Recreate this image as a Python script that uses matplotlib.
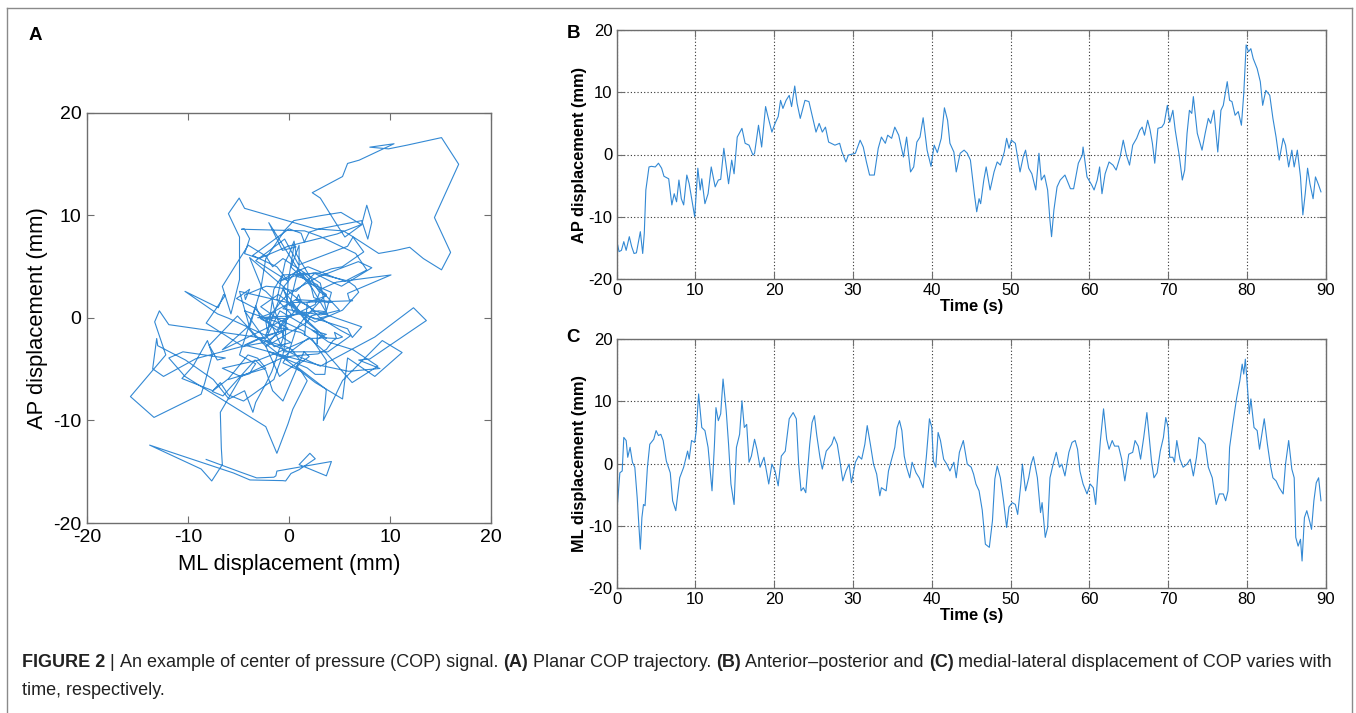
import numpy as np
import matplotlib
matplotlib.use("Agg")
import matplotlib.pyplot as plt
from matplotlib.lines import Line2D
from matplotlib.text import Annotation

# AP displacement (mm)
time_ap = [0.0, 0.3, 0.6, 0.9, 1.2, 1.6, 1.9, 2.2, 2.5, 3.0, 3.3, 3.5, 3.7, 4.1, 4.4, 4.9,
           5.3, 5.7, 6.0, 6.6, 7.0, 7.3, 7.6, 7.9, 8.2, 8.5, 8.9, 9.2, 9.9, 10.3, 10.6, 10.8,
           11.2, 11.6, 12.0, 12.5, 12.9, 13.2, 13.6, 14.2, 14.6, 14.9, 15.3, 15.9, 16.3, 16.8,
           17.3, 17.5, 18.0, 18.4, 18.9, 19.2, 19.7, 20.1, 20.5, 20.8, 21.1, 21.5, 21.9, 22.2,
           22.6, 22.9, 23.3, 23.9, 24.4, 24.8, 25.3, 25.7, 26.1, 26.5, 26.9, 27.7, 28.3, 28.6,
           29.1, 29.4, 30.3, 30.9, 31.3, 31.7, 32.1, 32.7, 33.2, 33.6, 34.1, 34.4, 34.9, 35.3,
           35.8, 36.4, 36.8, 37.3, 37.7, 38.1, 38.5, 38.9, 39.4, 39.9, 40.3, 40.7, 41.2, 41.6,
           42.0, 42.3, 42.8, 43.1, 43.6, 44.1, 44.5, 44.9, 45.4, 45.7, 46.0, 46.2, 46.6, 46.9,
           47.4, 47.9, 48.3, 48.7, 49.2, 49.5, 49.8, 50.1, 50.6, 51.2, 51.6, 51.9, 52.3, 52.7,
           53.2, 53.6, 53.9, 54.3, 54.7, 55.0, 55.2, 55.5, 55.9, 56.3, 56.9, 57.6, 58.0, 58.6,
           59.1, 59.2, 59.7, 60.3, 60.6, 61.0, 61.3, 61.6, 62.0, 62.5, 63.0, 63.4, 63.9, 64.3,
           64.7, 65.1, 65.5, 66.0, 66.4, 66.7, 67.0, 67.4, 67.7, 68.0, 68.3, 68.7, 69.2, 69.5,
           69.9, 70.2, 70.6, 70.9, 71.4, 71.8, 72.1, 72.4, 72.7, 73.0, 73.2, 73.7, 74.3, 74.7,
           75.1, 75.4, 75.8, 76.3, 76.7, 77.0, 77.5, 77.8, 78.1, 78.5, 78.9, 79.3, 79.6, 79.9,
           80.2, 80.5, 80.8, 81.3, 81.7, 82.0, 82.4, 82.9, 83.3, 83.7, 84.1, 84.6, 84.9, 85.3,
           85.7, 86.0, 86.4, 86.8, 87.1, 87.4, 87.7, 88.0, 88.4, 88.7, 89.1, 89.4]
ap = [-13.8, -15.6, -15.4, -14.0, -15.4, -13.2, -14.8, -15.9, -15.8, -12.4, -15.9, -12.7, -5.7, -2.0, -1.9, -2.0,
      -1.4, -2.2, -3.5, -3.9, -8.1, -6.3, -7.6, -4.1, -7.1, -8.1, -3.3, -4.7, -10.0, -2.2, -5.7, -3.9,
      -7.9, -6.3, -2.0, -5.2, -4.1, -4.0, 1.0, -4.7, -0.9, -3.1, 2.8, 4.2, 1.8, 1.5,
      -0.1, 0.2, 4.7, 1.2, 7.7, 6.1, 3.6, 5.0, 6.1, 8.7, 7.4, 8.7, 9.5, 7.7,
      11.0, 8.2, 5.8, 8.7, 8.5, 6.3, 3.6, 5.0, 3.6, 4.4, 2.0, 1.5, 1.8, 0.4,
      -1.2, -0.1, 0.2, 2.3, 1.2, -1.2, -3.3, -3.3, 1.0, 2.8, 1.8, 3.1, 2.6, 4.4,
      3.1, -0.4, 2.8, -2.8, -2.0, 2.0, 2.8, 5.9, 0.7, -1.9, 1.5, 0.3, 2.6, 7.5,
      5.5, 1.8, 0.4, -2.8, 0.2, 0.7, 0.2, -0.9, -6.3, -9.2, -7.1, -7.9, -4.1, -2.0,
      -5.7, -2.8, -1.2, -1.7, 0.4, 2.6, 1.0, 2.3, 1.8, -2.8, -0.4, 0.7, -2.2, -3.1,
      -5.7, 0.2, -4.1, -3.3, -5.7, -10.6, -13.2, -8.9, -5.2, -4.1, -3.3, -5.5, -5.5, -1.4,
      -0.1, 1.2, -3.6, -4.9, -5.7, -4.1, -2.0, -6.3, -3.1, -1.2, -1.7, -2.5, -0.4, 2.3,
      -0.1, -1.7, 1.5, 2.6, 3.9, 4.4, 3.1, 5.5, 4.0, 1.8, -1.4, 4.2, 4.4, 5.0,
      7.9, 5.2, 7.1, 3.9, -0.1, -4.1, -2.5, 3.4, 7.1, 6.6, 9.3, 3.4, 0.7, 3.4,
      5.8, 5.0, 7.1, 0.4, 7.1, 7.9, 11.7, 8.7, 8.5, 6.3, 6.9, 4.7, 9.8, 17.6,
      16.5, 17.0, 15.4, 13.8, 11.7, 7.9, 10.3, 9.5, 5.8, 2.8, -0.9, 2.6, 1.5, -2.0,
      0.7, -2.0, 0.7, -3.6, -9.7, -6.3, -2.2, -4.7, -7.1, -3.6, -4.9, -6.0]

# ML displacement (mm)
time_ml = [0.0, 0.2, 0.4, 0.7, 0.9, 1.2, 1.4, 1.7, 2.0, 2.3, 2.6, 3.0, 3.2, 3.4, 3.6, 3.9, 4.2,
           4.7, 5.0, 5.3, 5.6, 5.9, 6.3, 6.8, 7.1, 7.5, 8.0, 8.5, 9.0, 9.2, 9.5, 9.9, 10.1, 10.4,
           10.8, 11.2, 11.6, 12.1, 12.4, 12.6, 12.9, 13.2, 13.5, 13.9, 14.2, 14.5, 14.9, 15.2,
           15.6, 15.9, 16.2, 16.5, 16.8, 17.1, 17.5, 17.8, 18.2, 18.7, 19.3, 19.7, 20.1, 20.5,
           20.9, 21.4, 21.9, 22.4, 22.8, 23.1, 23.4, 23.7, 24.0, 24.5, 24.8, 25.1, 25.4, 25.8,
           26.1, 26.6, 27.0, 27.3, 27.6, 28.0, 28.3, 28.7, 29.1, 29.5, 29.8, 30.3, 30.7, 31.1,
           31.5, 31.8, 32.2, 32.6, 33.0, 33.4, 33.6, 34.2, 34.5, 34.9, 35.3, 35.6, 35.9, 36.2,
           36.5, 36.8, 37.2, 37.5, 38.0, 38.4, 38.9, 39.3, 39.7, 40.0, 40.2, 40.5, 40.8, 41.1,
           41.5, 41.9, 42.3, 42.8, 43.1, 43.5, 44.0, 44.5, 45.0, 45.3, 45.6, 46.0, 46.4, 46.8,
           47.3, 47.7, 48.0, 48.3, 48.7, 49.1, 49.5, 49.8, 50.2, 50.6, 50.9, 51.3, 51.5, 51.9,
           52.3, 52.6, 52.9, 53.4, 53.8, 54.0, 54.4, 54.7, 55.0, 55.4, 55.8, 56.2, 56.5, 56.9,
           57.4, 57.8, 58.2, 58.5, 58.8, 59.2, 59.7, 60.1, 60.5, 60.8, 61.1, 61.4, 61.8, 62.2,
           62.5, 62.9, 63.2, 63.7, 64.1, 64.5, 65.0, 65.5, 65.8, 66.2, 66.5, 66.9, 67.3, 67.6,
           67.9, 68.2, 68.6, 69.0, 69.4, 69.7, 70.0, 70.2, 70.6, 70.8, 71.1, 71.5, 71.9, 72.4,
           72.8, 73.2, 73.6, 73.9, 74.3, 74.7, 75.1, 75.6, 75.9, 76.1, 76.5, 77.0, 77.3, 77.6,
           77.8, 78.2, 78.7, 79.1, 79.4, 79.6, 79.8, 80.1, 80.3, 80.5, 80.9, 81.3, 81.6, 81.9,
           82.2, 82.6, 83.0, 83.3, 83.7, 84.1, 84.6, 84.9, 85.3, 85.7, 86.0, 86.2, 86.5, 86.8,
           87.0, 87.3, 87.6, 88.0, 88.2, 88.5, 88.8, 89.1, 89.4]
ml = [-8.2, -4.9, -1.5, -1.2, 4.2, 3.7, 1.0, 2.6, 0.2, -0.6, -5.5, -13.8, -8.7, -6.6, -6.8, -0.6, 3.1,
      3.9, 5.3, 4.5, 4.7, 3.7, 0.4, -1.5, -6.0, -7.6, -2.3, -0.6, 2.0, 0.7, 3.7, 3.4, 5.3, 11.2,
      5.8, 5.3, 2.6, -4.4, 2.8, 9.0, 6.9, 8.0, 13.6, 8.5, 3.1, -3.3, -6.6, 2.6,
      4.7, 10.1, 5.8, 6.3, 0.2, 1.2, 3.9, 2.3, -0.6, 1.0, -3.3, -0.1, -1.2, -3.6,
      1.2, 2.0, 7.2, 8.2, 7.2, -0.1, -4.4, -3.9, -4.7, 3.1, 6.6, 7.7, 4.5, 1.0,
      -0.9, 2.0, 2.6, 3.1, 4.3, 3.1, 0.7, -2.8, -1.2, -0.1, -3.1, 0.2, 1.2, 0.7,
      3.1, 6.1, 3.1, -0.1, -1.7, -5.2, -3.9, -4.4, -1.2, 0.7, 2.6, 5.8, 6.9, 5.3,
      1.2, -0.6, -2.3, 0.2, -1.5, -2.3, -3.9, 1.0, 7.2, 5.8, 0.4, -0.6, 5.0, 3.7,
      0.7, -0.1, -1.2, 0.2, -2.3, 1.8, 3.7, -0.1, -0.6, -1.7, -3.3, -4.4, -7.5, -13.0,
      -13.5, -9.2, -2.5, -0.4, -2.3, -6.0, -10.3, -7.0, -6.3, -6.6, -8.2, -3.3, -0.1, -4.4,
      -2.3, -0.1, 1.1, -2.3, -7.9, -6.3, -11.9, -10.3, -2.3, -0.1, 1.8, -0.6, -0.1, -2.0,
      1.8, 3.4, 3.7, 2.3, -1.2, -3.3, -4.9, -3.3, -3.9, -6.6, -1.2, 3.7, 8.8, 3.9,
      2.3, 3.7, 2.8, 2.8, 0.7, -2.8, 1.5, 1.8, 3.7, 2.8, 0.7, 4.2, 8.2, 4.2,
      0.2, -2.3, -1.5, 2.0, 4.2, 7.4, 5.8, 1.0, 1.0, 0.2, 3.7, 0.7, -0.6, -0.1,
      0.7, -2.0, 1.0, 4.2, 3.7, 3.1, -0.6, -2.3, -4.9, -6.6, -4.9, -4.9, -6.0, -4.4,
      2.6, 6.3, 10.6, 13.3, 16.0, 14.4, 16.8, 11.7, 8.0, 10.4, 5.8, 5.3, 2.3, 4.7,
      7.2, 3.1, -0.4, -2.3, -2.8, -3.9, -4.9, -0.1, 3.7, -0.9, -2.3, -11.9, -13.3, -12.2,
      -15.7, -8.7, -7.6, -9.5, -10.6, -6.0, -3.1, -2.3, -6.0]

disp_ticks = [-20, -10, 0, 10, 20]
time_ticks = [0, 10, 20, 30, 40, 50, 60, 70, 80, 90]

line_color = '#3389d4'
box_color = '#6e6e6e'
plt.rcParams['font.family'] = ['Liberation Sans', 'DejaVu Sans']
plt.rcParams['axes.unicode_minus'] = False

fig = plt.figure(figsize=(13.56, 7.13), dpi=100)
W, H = 1356.0, 713.0


def px_axes(left, top, right, bottom):
    return fig.add_axes([left / W, 1 - bottom / H, (right - left) / W, (bottom - top) / H])


def style_box(ax, size, pad):
    for s in ax.spines.values():
        s.set_color(box_color)
        s.set_linewidth(1.0)
    ax.tick_params(direction='in', top=True, right=True, length=5, width=0.8,
                   color=box_color, labelsize=size, pad=pad)


# panel A - planar trajectory, ML against AP on a shared time base
t_all = np.union1d(time_ap, time_ml)
ax_a = px_axes(87, 113, 491, 523)
ax_a.plot(np.interp(t_all, time_ml, ml), np.interp(t_all, time_ap, ap),
          color=line_color, lw=0.8)
ax_a.set_xlim(-20, 20)
ax_a.set_ylim(-20, 20)
ax_a.set_xticks(disp_ticks)
ax_a.set_yticks(disp_ticks)
style_box(ax_a, 14, 4)
ax_a.set_xlabel('ML displacement (mm)', fontsize=15.8, labelpad=6)
ax_a.set_ylabel('AP displacement (mm)', fontsize=15.8, labelpad=4)

# panels B and C - displacement against time
for top, bottom, t, v, lab in [(30, 279, time_ap, ap, 'AP displacement (mm)'),
                               (339.3, 587.7, time_ml, ml, 'ML displacement (mm)')]:
    ax = px_axes(616.7, top, 1325.7, bottom)
    ax.plot(t, v, color=line_color, lw=0.8)
    ax.set_xlim(0, 90)
    ax.set_ylim(-20, 20)
    ax.set_xticks(time_ticks)
    ax.set_yticks(disp_ticks)
    ax.grid(True, color='#333333', linestyle=(0, (1, 2)), linewidth=0.8)
    style_box(ax, 12, 3)
    ax.set_xlabel('Time (s)', fontsize=12, fontweight='bold', labelpad=0.5)
    ax.set_ylabel(lab, fontsize=11.8, fontweight='bold', labelpad=1)

# panel letters
fig.text(35 / W, 1 - 35 / H, 'A', fontsize=13.5, fontweight='bold', va='center', ha='center')
fig.text(573 / W, 1 - 33 / H, 'B', fontsize=13.5, fontweight='bold', va='center', ha='center')
fig.text(573 / W, 1 - 337 / H, 'C', fontsize=13.5, fontweight='bold', va='center', ha='center')

# outer frame
for xs, ys in [([7, 7], [8, 713]), ([7, 1352], [8, 8]), ([1352, 1352], [8, 713])]:
    fig.add_artist(Line2D([x / W for x in xs], [1 - y / H for y in ys],
                          color='#8a8a8a', lw=1.0))

# caption, mixed weights chained piece after piece
cap_font = ['Liberation Sans', 'DejaVu Sans']
cap_size = 13
pieces = [('FIGURE 2', 'bold'), (' | ', 'normal'),
          ('An example of center of pressure (COP) signal. ', 'normal'),
          ('(A)', 'bold'), (' Planar COP trajectory. ', 'normal'), ('(B)', 'bold'),
          (' Anterior\u2013posterior and ', 'normal'), ('(C)', 'bold'),
          (' medial-lateral displacement of COP varies with', 'normal')]
prev = fig.text(22 / W, 1 - 671 / H, pieces[0][0], fontsize=cap_size, fontweight='bold',
                family=cap_font, va='bottom', ha='left', color='#222222')
for txt, wt in pieces[1:]:
    prev = fig.add_artist(Annotation(
        txt, xy=(1, 0), xycoords=prev, va='bottom', ha='left', fontsize=cap_size,
        fontweight=wt, family=cap_font, color='#222222'))
fig.text(22 / W, 1 - 699 / H, 'time, respectively.', fontsize=cap_size, family=cap_font,
         va='bottom', ha='left', color='#222222')

fig.savefig('out.png', dpi=100)
